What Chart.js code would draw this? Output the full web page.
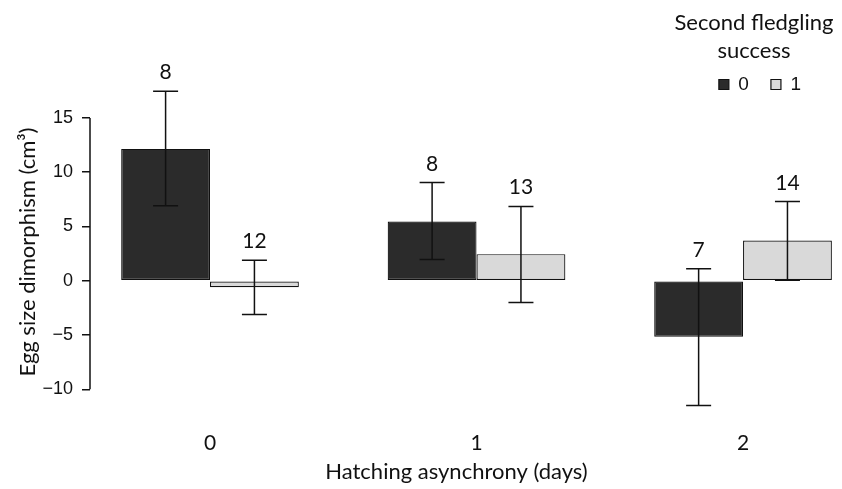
<!DOCTYPE html>
<html>
<head>
<meta charset="utf-8">
<script src="https://cdn.jsdelivr.net/npm/chart.js@4"></script>
<style>
  html, body { margin: 0; padding: 0; background: #fff; }
  #wrap { width: 842px; height: 489px; }
</style>
</head>
<body>
<div id="wrap"><canvas id="eggChart" width="842" height="489"></canvas></div>
<script>
// hatching asynchrony (days)
const categories = ['0', '1', '2'];
// second fledgling success
const seriesLabels = ['0', '1'];

// mean egg size dimorphism (cm3)
const meansFail = [12.15, 5.45, -5.15];
const meansSuccess = [-0.6, 2.45, 3.7];

// error bar ends
const lowFail = [6.9, 1.95, -11.5];
const highFail = [17.45, 9.05, 1.1];
const lowSuccess = [-3.1, -2.0, 0.05];
const highSuccess = [1.9, 6.85, 7.3];

// sample sizes shown above the bars
const nFail = [8, 8, 7];
const nSuccess = [12, 13, 14];

const yTicks = [-10, -5, 0, 5, 10, 15];

const INK = '#111';
const calibriLike = 'Lato, "Open Sans", sans-serif';
const arialLike = '"Liberation Sans", Arial, sans-serif';

// error bars + n labels
const errorBarPlugin = {
    id: 'errorBars',
    afterDatasetsDraw(chart) {
        const ctx = chart.ctx;
        const yScale = chart.scales.y;
        ctx.save();
        ctx.strokeStyle = INK;
        ctx.fillStyle = INK;
        ctx.lineWidth = 1.5;
        ctx.font = '21px ' + calibriLike;
        ctx.textAlign = 'center';
        ctx.textBaseline = 'alphabetic';
        chart.data.datasets.forEach((ds, di) => {
            const meta = chart.getDatasetMeta(di);
            meta.data.forEach((bar, i) => {
                const x = bar.x;
                const top = yScale.getPixelForValue(ds.errHigh[i]);
                const bottom = yScale.getPixelForValue(ds.errLow[i]);
                const cap = 12.5;
                ctx.beginPath();
                ctx.moveTo(x, top);
                ctx.lineTo(x, bottom);
                ctx.moveTo(x - cap, top);
                ctx.lineTo(x + cap, top);
                ctx.moveTo(x - cap, bottom);
                ctx.lineTo(x + cap, bottom);
                ctx.stroke();
                ctx.fillText(String(ds.sizes[i]), x, top - 12);
            });
        });
        ctx.restore();
    }
};

// R style y axis line, only between first and last tick
const axisLinePlugin = {
    id: 'axisLine',
    afterDraw(chart) {
        const s = chart.scales.y;
        const ctx = chart.ctx;
        ctx.save();
        ctx.strokeStyle = INK;
        ctx.lineWidth = 1.5;
        ctx.beginPath();
        ctx.moveTo(s.right, s.getPixelForValue(yTicks[0]));
        ctx.lineTo(s.right, s.getPixelForValue(yTicks[yTicks.length - 1]));
        ctx.stroke();
        ctx.restore();
    }
};

// two line legend title, centred over the legend items
const legendTitlePlugin = {
    id: 'legendTitle',
    afterDraw(chart) {
        const boxes = chart.legend && chart.legend.legendHitBoxes;
        if (!boxes || !boxes.length) return;
        const last = boxes[boxes.length - 1];
        const cx = (boxes[0].left + last.left + last.width) / 2 - 6;
        const ctx = chart.ctx;
        ctx.save();
        ctx.fillStyle = INK;
        ctx.font = '22px ' + calibriLike;
        ctx.textAlign = 'center';
        ctx.textBaseline = 'alphabetic';
        ctx.fillText('Second fledgling', cx, 30);
        ctx.fillText('success', cx, 58);
        ctx.restore();
    }
};

const ctx = document.getElementById('eggChart').getContext('2d');

window.eggChartInstance = new Chart(ctx, {
    type: 'bar',
    data: {
        labels: categories,
        datasets: [
            {
                label: seriesLabels[0],
                data: meansFail,
                errLow: lowFail,
                errHigh: highFail,
                sizes: nFail,
                backgroundColor: '#2b2b2b',
                borderColor: INK,
                borderWidth: 1.2,
                borderSkipped: false,
                clip: false
            },
            {
                label: seriesLabels[1],
                data: meansSuccess,
                errLow: lowSuccess,
                errHigh: highSuccess,
                sizes: nSuccess,
                backgroundColor: '#d9d9d9',
                borderColor: INK,
                borderWidth: 1.2,
                borderSkipped: false,
                clip: false
            }
        ]
    },
    options: {
        responsive: false,
        animation: false,
        categoryPercentage: 2 / 3,
        barPercentage: 1,
        layout: { padding: { top: 53, right: 19, left: 0, bottom: 0 } },
        plugins: {
            legend: {
                display: true,
                position: 'top',
                align: 'end',
                maxHeight: 40,
                labels: {
                    boxWidth: 10,
                    boxHeight: 10,
                    padding: 22,
                    color: INK,
                    font: { family: arialLike, size: 19 }
                }
            },
            tooltip: { enabled: false }
        },
        scales: {
            x: {
                type: 'linear',
                offset: false,
                min: -0.4503,
                max: 2.3,
                afterBuildTicks: (scale) => {
                    scale.ticks = categories.map((c, i) => ({ value: i }));
                },
                afterFit: (scale) => { scale.height = 78; },
                grid: { display: false, drawTicks: false },
                border: { display: false },
                ticks: {
                    padding: 20,
                    color: INK,
                    font: { family: calibriLike, size: 21 },
                    callback: (v) => categories[v]
                },
                title: {
                    display: true,
                    text: 'Hatching asynchrony (days)',
                    color: INK,
                    font: { family: calibriLike, size: 22 },
                    padding: { top: 0, bottom: 4 }
                }
            },
            y: {
                min: -12.0,
                max: 17.3,
                afterBuildTicks: (scale) => {
                    scale.ticks = yTicks.map(v => ({ value: v }));
                },
                afterFit: (scale) => { scale.width = 90; },
                border: { display: false },
                grid: {
                    drawOnChartArea: false,
                    drawTicks: true,
                    tickLength: 8,
                    color: INK,
                    lineWidth: 1.5
                },
                ticks: {
                    padding: 9,
                    color: INK,
                    font: { family: arialLike, size: 18 },
                    callback: (v) => (v < 0 ? '\u2212' + Math.abs(v) : String(v))
                },
                title: {
                    display: true,
                    text: 'Egg size dimorphism (cm\u00b3)',
                    color: INK,
                    font: { family: calibriLike, size: 22 },
                    padding: { top: 15, bottom: 0 }
                }
            }
        }
    },
    plugins: [errorBarPlugin, axisLinePlugin, legendTitlePlugin]
});
</script>
</body>
</html>
